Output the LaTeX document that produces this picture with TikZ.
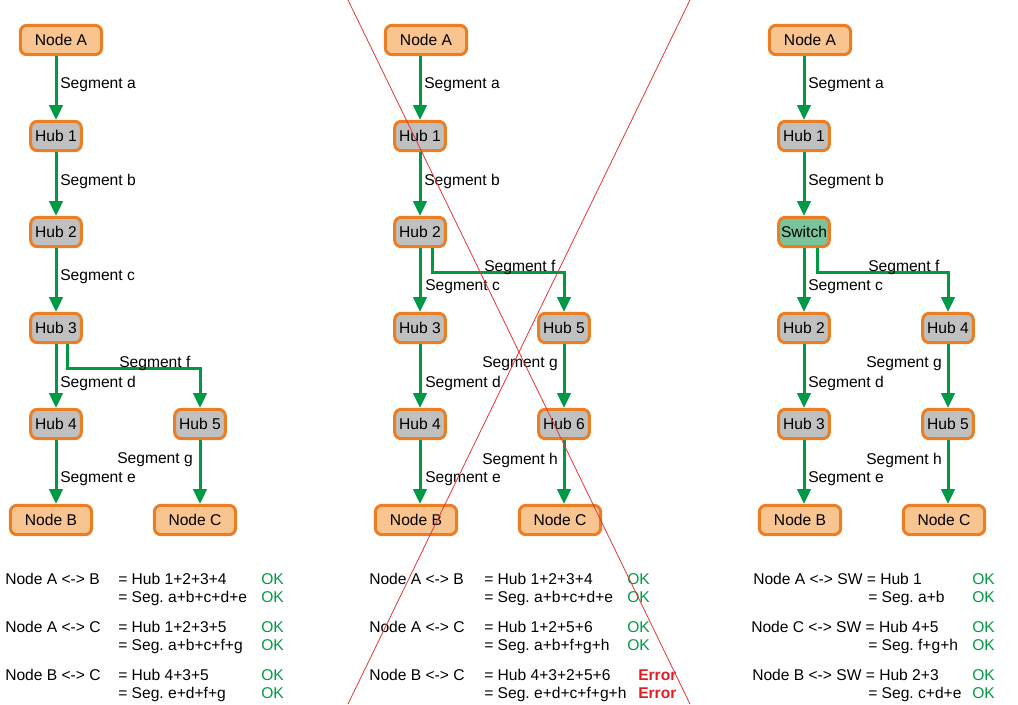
\documentclass[tikz,border=0pt]{standalone}
\usepackage{fontspec}
\setmainfont{Liberation Sans}
\usetikzlibrary{arrows.meta}
\definecolor{nodeline}{RGB}{235,125,35}
\definecolor{nodefill}{RGB}{248,196,144}
\definecolor{hubfill}{RGB}{192,192,192}
\definecolor{swfill}{RGB}{122,196,156}
\definecolor{seggreen}{RGB}{0,153,68}
\definecolor{errred}{RGB}{225,30,35}
\frenchspacing

\begin{document}
\begin{tikzpicture}[x=0.75pt,y=-0.75pt]
\tikzstyle{every node}=[font=\fontsize{11.7}{14}\selectfont]
\tikzstyle{endnode}=[draw=nodeline,line width=2.25pt,rounded corners=5pt,fill=nodefill,minimum width=61pt,minimum height=22pt,inner sep=0]
\tikzstyle{hubnode}=[endnode,fill=hubfill,minimum width=38pt]
\tikzstyle{swnode}=[hubnode,fill=swfill]
\tikzstyle{seg}=[draw=seggreen,line width=2.25pt,-{Triangle[width=10pt,length=11pt]}]
\tikzstyle{lbl}=[anchor=west,inner sep=0,yshift=-1.6pt]
\tikzstyle{txt}=[anchor=base west,inner sep=0]
\tikzstyle{ok}=[txt,text=seggreen]
\tikzstyle{err}=[txt,text=errred,font=\fontsize{11.7}{14}\selectfont\bfseries]
\useasboundingbox (0,0) rectangle (1018,704);

% left: hubs only
\node[endnode] (la) at (61,40) {Node A};
\node[hubnode] (lh1) at (56,136) {Hub 1};
\node[hubnode] (lh2) at (56,232) {Hub 2};
\node[hubnode] (lh3) at (56,328) {Hub 3};
\node[hubnode] (lh4) at (56,424) {Hub 4};
\node[hubnode] (lh5) at (200,424) {Hub 5};
\node[endnode] (lb) at (51,520) {Node B};
\node[endnode] (lc) at (195,520) {Node C};
\draw[seg] (lh1 |- la.south) -- (lh1.north);
\draw[seg] (lh1) -- (lh2);
\draw[seg] (lh2) -- (lh3);
\draw[seg] (lh3) -- (lh4);
\draw[seg] ([xshift=8.25pt]lh3.south) -- ++(0,24) -| (lh5.north);
\draw[seg] (lh4) -- (lh4 |- lb.north);
\draw[seg] (lh5) -- (lh5 |- lc.north);
\node[lbl] (lsa) at (60,83) {Segment a};
\node[lbl] (lsb) at (60,179) {Segment b};
\node[lbl] (lsc) at (60,275) {Segment c};
\node[lbl] (lsf) at (119,361) {Segment f};
\node[lbl] (lsd) at (60,381) {Segment d};
\node[lbl] (lsg) at (117,458) {Segment g};
\node[lbl] (lse) at (60,477) {Segment e};

% middle: loop over hubs
\node[endnode] (ma) at (426,40) {Node A};
\node[hubnode] (mh1) at (420,136) {Hub 1};
\node[hubnode] (mh2) at (420,232) {Hub 2};
\node[hubnode] (mh3) at (420,328) {Hub 3};
\node[hubnode] (mh4) at (420,424) {Hub 4};
\node[hubnode] (mh5) at (564,328) {Hub 5};
\node[hubnode] (mh6) at (564,424) {Hub 6};
\node[endnode] (mb) at (416,520) {Node B};
\node[endnode] (mc) at (560,520) {Node C};
\draw[seg] (mh1 |- ma.south) -- (mh1.north);
\draw[seg] (mh1) -- (mh2);
\draw[seg] (mh2) -- (mh3);
\draw[seg] (mh3) -- (mh4);
\draw[seg] ([xshift=9pt]mh2.south) -- ++(0,24) -| (mh5.north);
\draw[seg] (mh5) -- (mh6);
\draw[seg] (mh4) -- (mh4 |- mb.north);
\draw[seg] (mh6) -- (mh6 |- mc.north);
\node[lbl] (msa) at (424,83) {Segment a};
\node[lbl] (msb) at (424,179) {Segment b};
\node[lbl] (msf) at (484,265) {Segment f};
\node[lbl] (msc) at (425,285) {Segment c};
\node[lbl] (msg) at (482,362) {Segment g};
\node[lbl] (msd) at (425,381) {Segment d};
\node[lbl] (msh) at (482,458) {Segment h};
\node[lbl] (mse) at (425,477) {Segment e};

% right: with switch
\node[endnode] (ra) at (810,40) {Node A};
\node[hubnode] (rh1) at (804,136) {Hub 1};
\node[swnode] (rsw) at (804,232) {Switch};
\node[hubnode] (rh2) at (804,328) {Hub 2};
\node[hubnode] (rh3) at (804,424) {Hub 3};
\node[hubnode] (rh4) at (948,328) {Hub 4};
\node[hubnode] (rh5) at (948,424) {Hub 5};
\node[endnode] (rb) at (800,520) {Node B};
\node[endnode] (rc) at (944,520) {Node C};
\draw[seg] (rh1 |- ra.south) -- (rh1.north);
\draw[seg] (rh1) -- (rsw);
\draw[seg] (rsw) -- (rh2);
\draw[seg] (rh2) -- (rh3);
\draw[seg] ([xshift=9.75pt]rsw.south) -- ++(0,24) -| (rh4.north);
\draw[seg] (rh4) -- (rh5);
\draw[seg] (rh3) -- (rh3 |- rb.north);
\draw[seg] (rh5) -- (rh5 |- rc.north);
\node[lbl] (rsa) at (808,83) {Segment a};
\node[lbl] (rsb) at (808,179) {Segment b};
\node[lbl] (rsf) at (868,265) {Segment f};
\node[lbl] (rsc) at (808,285) {Segment c};
\node[lbl] (rsg) at (866,362) {Segment g};
\node[lbl] (rsd) at (808,381) {Segment d};
\node[lbl] (rsh) at (866,458) {Segment h};
\node[lbl] (rse) at (808,477) {Segment e};

% path checks
\node[txt] (lt1) at (5,584) {Node A <-> B};
\node[txt] (lt2) at (118,584) {= Hub 1+2+3+4};
\node[ok] (lt3) at (261,584) {OK};
\node[txt] (lt4) at (118,602) {= Seg. a+b+c+d+e};
\node[ok] (lt5) at (261,602) {OK};
\node[txt] (lt6) at (5,632) {Node A <-> C};
\node[txt] (lt7) at (118,632) {= Hub 1+2+3+5};
\node[ok] (lt8) at (261,632) {OK};
\node[txt] (lt9) at (118,650) {= Seg. a+b+c+f+g};
\node[ok] (lt10) at (261,650) {OK};
\node[txt] (lt11) at (5,680) {Node B <-> C};
\node[txt] (lt12) at (118,680) {= Hub 4+3+5};
\node[ok] (lt13) at (261,680) {OK};
\node[txt] (lt14) at (118,698) {= Seg. e+d+f+g};
\node[ok] (lt15) at (261,698) {OK};

\node[txt] (mt1) at (369,584) {Node A <-> B};
\node[txt] (mt2) at (484,584) {= Hub 1+2+3+4};
\node[ok] (mt3) at (627,584) {OK};
\node[txt] (mt4) at (484,602) {= Seg. a+b+c+d+e};
\node[ok] (mt5) at (627,602) {OK};
\node[txt] (mt6) at (369,632) {Node A <-> C};
\node[txt] (mt7) at (484,632) {= Hub 1+2+5+6};
\node[ok] (mt8) at (627,632) {OK};
\node[txt] (mt9) at (484,650) {= Seg. a+b+f+g+h};
\node[ok] (mt10) at (627,650) {OK};
\node[txt] (mt11) at (369,680) {Node B <-> C};
\node[txt] (mt12) at (484,680) {= Hub 4+3+2+5+6};
\node[err] (mt13) at (638,680) {Error};
\node[txt] (mt14) at (484,698) {= Seg. e+d+c+f+g+h};
\node[err] (mt15) at (638,698) {Error};

\node[txt] (rt1) at (753,584) {Node A <-> SW = Hub 1};
\node[ok] (rt3) at (972,584) {OK};
\node[txt] (rt4) at (868,602) {= Seg. a+b};
\node[ok] (rt5) at (972,602) {OK};
\node[txt] (rt6) at (751,632) {Node C <-> SW = Hub 4+5};
\node[ok] (rt8) at (972,632) {OK};
\node[txt] (rt9) at (868,650) {= Seg. f+g+h};
\node[ok] (rt10) at (972,650) {OK};
\node[txt] (rt11) at (752,680) {Node B <-> SW = Hub 2+3};
\node[ok] (rt13) at (972,680) {OK};
\node[txt] (rt14) at (868,698) {= Seg. c+d+e};
\node[ok] (rt15) at (972,698) {OK};

% cross out middle
\draw[errred!90,line width=0.6pt] (348,0) -- (690,704);
\draw[errred!90,line width=0.6pt] (690,0) -- (348,704);
\end{tikzpicture}
\end{document}
